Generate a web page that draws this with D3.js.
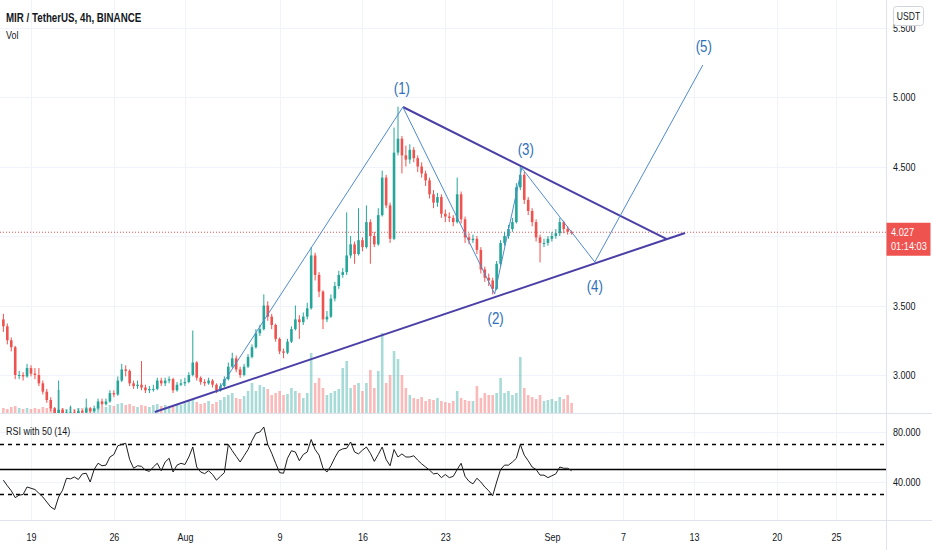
<!DOCTYPE html>
<html>
<head>
<meta charset="utf-8">
<script src="https://cdn.jsdelivr.net/npm/d3@7"></script>
<style>
  body { margin: 0; background: #fff; }
  svg text { font-family: "Liberation Sans", Arial, sans-serif; fill: #131722; }
</style>
</head>
<body>
<svg id="chart" width="932" height="550"></svg>
<script>
// ---- data (8h steps) ----
var startTime = "2021-07-16T16:00"
var firstOpen = 3.40

var closes = [
  3.35,3.25,3.20,3.00,3.00,2.99,3.05,3.01,3.00,2.94,
  2.88,2.82,2.76,2.72,2.75,2.72,2.73,2.73,2.72,2.74,
  2.73,2.76,2.74,2.76,2.81,2.79,2.81,2.87,2.86,2.96,
  3.04,3.03,2.94,2.92,2.93,2.91,2.89,2.90,2.90,2.96,
  2.94,2.96,2.97,2.89,2.93,2.94,2.95,3.00,3.09,2.98,
  2.95,2.94,2.96,2.93,2.89,2.92,2.97,3.06,3.12,3.04,
  3.00,3.06,3.13,3.20,3.30,3.33,3.50,3.42,3.36,3.26,
  3.17,3.16,3.24,3.33,3.40,3.38,3.42,3.48,3.86,3.72,
  3.60,3.40,3.42,3.55,3.64,3.72,3.74,3.86,3.94,3.87,
  3.97,3.92,4.10,4.00,3.94,4.15,4.42,4.22,3.98,4.60,
  4.70,4.58,4.55,4.62,4.56,4.50,4.45,4.40,4.30,4.24,
  4.28,4.16,4.14,4.13,4.10,4.30,4.12,3.99,3.97,3.98,
  3.90,3.76,3.70,3.68,3.62,3.80,3.95,4.00,4.05,4.10,
  4.35,4.44,4.26,4.18,4.10,3.99,3.95,3.95,3.98,4.00,
  4.02,4.10,4.05,4.03,4.027
]
var highs = [
  3.44,3.37,3.27,3.21,3.03,3.02,3.08,3.07,3.05,3.05,
  2.96,2.90,2.84,2.77,2.96,2.76,2.75,2.78,2.75,2.76,
  2.75,2.83,2.77,2.78,2.83,2.83,2.83,2.89,2.89,2.99,
  3.08,3.07,3.04,2.96,2.96,3.10,2.93,2.92,2.93,2.98,
  2.98,2.98,2.99,2.98,2.95,2.97,2.98,3.02,3.32,3.10,
  2.99,2.97,2.98,2.97,2.94,2.94,2.99,3.09,3.16,3.14,
  3.06,3.08,3.15,3.22,3.33,3.36,3.58,3.53,3.44,3.37,
  3.27,3.19,3.26,3.35,3.50,3.43,3.45,3.52,3.92,3.88,
  3.74,3.61,3.46,3.58,3.67,3.75,3.77,4.17,4.00,3.96,
  4.20,3.99,4.22,4.12,4.03,4.20,4.47,4.44,4.24,4.78,
  4.93,4.72,4.65,4.66,4.64,4.58,4.53,4.47,4.42,4.33,
  4.31,4.30,4.19,4.17,4.15,4.42,4.32,4.14,4.02,4.01,
  4.00,3.92,3.78,3.73,3.70,3.82,3.97,4.03,4.08,4.13,
  4.38,4.50,4.46,4.28,4.20,4.12,4.01,3.98,4.00,4.03,
  4.05,4.13,4.11,4.07,4.04
]
var lows = [
  3.31,3.22,3.17,2.97,2.97,2.96,2.98,2.99,2.97,2.92,
  2.86,2.80,2.74,2.69,2.70,2.69,2.70,2.71,2.70,2.71,
  2.71,2.72,2.72,2.73,2.75,2.77,2.78,2.80,2.84,2.85,
  2.95,2.99,2.92,2.90,2.90,2.89,2.87,2.87,2.88,2.89,
  2.92,2.92,2.94,2.87,2.88,2.92,2.92,2.94,2.99,2.96,
  2.93,2.92,2.93,2.91,2.87,2.88,2.91,2.96,3.05,3.02,
  2.98,2.99,3.05,3.12,3.19,3.28,3.32,3.39,3.33,3.24,
  3.15,3.12,3.15,3.23,3.32,3.26,3.36,3.40,3.47,3.68,
  3.56,3.33,3.38,3.41,3.53,3.62,3.70,3.72,3.84,3.80,
  3.86,3.89,3.91,3.80,3.92,3.93,4.14,4.20,3.95,3.97,
  4.58,4.45,4.50,4.52,4.53,4.46,4.42,4.36,4.27,4.20,
  4.21,4.13,4.10,4.10,4.07,4.09,4.09,3.95,3.94,3.95,
  3.87,3.73,3.67,3.64,3.58,3.61,3.78,3.93,3.98,4.03,
  4.09,4.33,4.23,4.15,4.07,3.96,3.81,3.92,3.93,3.96,
  3.98,4.00,4.02,4.01,4.01
]
var volumes = [ // thousand MIR, rough
  5,4,6,7,5,4,5,4,5,4,
  6,5,6,5,23,5,4,6,4,5,
  5,6,5,5,7,6,6,8,7,9,
  10,8,9,7,6,8,7,6,8,9,
  7,8,7,8,9,8,10,12,14,11,
  9,10,12,9,11,13,16,18,20,15,
  14,17,22,30,22,28,26,24,18,20,
  22,18,19,25,22,20,15,20,60,30,
  35,25,18,20,22,24,45,52,25,28,
  30,22,30,43,25,42,80,30,38,62,
  54,38,25,18,15,14,16,12,14,13,
  15,12,11,10,12,22,15,13,12,12,
  27,15,20,18,18,20,35,20,22,18,
  20,56,25,18,16,14,18,12,13,14,
  12,16,14,18,10
]
var rsi = [
  41.5,37,33,27.5,29.5,30,36,35,34,31,
  28,24,20,18,28,33.5,43,42.5,44,42,
  46.5,47,40,50,55,53,53.5,60,62,69,
  70,71,58,51,53,52.5,49.5,48.5,52,55,
  49,56,59,48,53.5,55,54,60,68,52,
  48,46.7,49,46,41.5,44.5,47.5,70,65,60.5,
  56,61,66,73,79,80,84,70,63,55,
  47.5,47,59,65,64,57,62,64,74,66,
  61.5,51,48,53,59.5,65,66.5,67,72,64,
  62.5,65.5,68,63,56.5,62,68,58,53,66,
  60,62.5,60,60,61,57.5,54.5,52,49.5,46.5,
  47,43.5,46,43.5,44.5,50,55,44.5,40.5,38.5,
  43,40,36,33,29,40,50,53.5,53.5,56,
  59,70,61.5,57,52,50,45.5,45.5,43.5,45,
  46.5,52,51,51,49
]

var priceTicks = [3.0, 3.5, 4.0, 4.5, 5.0, 5.5]
var rsiTicks = [40, 80]
var rsiBands = [70, 50, 30]
var dateTicks = ["2021-07-19","2021-07-26","2021-08-01","2021-08-09","2021-08-16","2021-08-23",
                 "2021-09-01","2021-09-07","2021-09-13","2021-09-20","2021-09-25"]
var dateLabels = ["19","26","Aug","9","16","23","Sep","7","13","20","25"]

// drawings on the chart
var waveTimes  = ["2021-08-03T19:00","2021-08-19T10:00","2021-08-27T04:00","2021-08-29T11:00","2021-09-04T15:00","2021-09-13T18:00"]
var wavePrices = [2.885, 4.928, 3.583, 4.489, 3.813, 5.23]
var waveNames  = ["(1)","(2)","(3)","(4)","(5)"]
var waveLabelTimes  = ["2021-08-19T08:00","2021-08-27T06:00","2021-08-29T19:00","2021-09-04T15:00","2021-09-13T20:00"]
var waveLabelPrices = [5.065, 3.41, 4.626, 3.64, 5.367]
var upperTimes  = ["2021-08-19T10:00","2021-09-10T17:00"]
var upperPrices = [4.928, 3.978]
var lowerTimes  = ["2021-07-29T11:00","2021-09-12T06:00"]
var lowerPrices = [2.734, 4.022]

var lastPrice = 4.027
var countdown = "01:14:03"

// ---- chart ----
var svg = d3.select('#chart')
var axisX = 886, mainBottom = 413, rsiTop = 414, rsiBottom = 520
var up = '#26a69a', down = '#ef5350', grid = '#f0f3fa', border = '#e0e3eb'

var parseT = d3.utcParse('%Y-%m-%dT%H:%M')
var parseD = d3.utcParse('%Y-%m-%d')
var t0 = parseT(startTime)

var candles = closes.map(function(c, i) {
  return { t: d3.utcHour.offset(t0, 8 * i), o: i ? closes[i - 1] : firstOpen,
           h: highs[i], l: lows[i], c: c, v: volumes[i], r: rsi[i] }
})

var xScale = d3.scaleUtc()
  .domain([parseD('2021-07-19'), parseD('2021-09-25')])
  .range([31, 836])
var yScale = d3.scaleLinear().domain([3, 5]).range([375, 97])
var rScale = d3.scaleLinear().domain([40, 80]).range([482, 432])
var vScale = d3.scaleLinear().domain([0, d3.max(volumes)]).range([0, 80])

var defs = svg.append('defs')
defs.append('clipPath').attr('id', 'clipMain')
  .append('rect').attr('x', 0).attr('y', 0).attr('width', axisX).attr('height', mainBottom)
defs.append('clipPath').attr('id', 'clipRsi')
  .append('rect').attr('x', 0).attr('y', rsiTop).attr('width', axisX).attr('height', rsiBottom - rsiTop)

// grid
var g = svg.append('g')
g.selectAll('.vgrid').data(dateTicks).enter().append('line')
  .attr('x1', d => Math.round(xScale(parseD(d))) + 0.5).attr('x2', d => Math.round(xScale(parseD(d))) + 0.5)
  .attr('y1', 0).attr('y2', rsiBottom).attr('stroke', grid)
g.selectAll('.hgrid').data(priceTicks).enter().append('line')
  .attr('x1', 0).attr('x2', axisX)
  .attr('y1', d => Math.round(yScale(d)) + 0.5).attr('y2', d => Math.round(yScale(d)) + 0.5)
  .attr('stroke', grid)
g.selectAll('.rgrid').data(rsiTicks).enter().append('line')
  .attr('x1', 0).attr('x2', axisX)
  .attr('y1', d => Math.round(rScale(d)) + 0.5).attr('y2', d => Math.round(rScale(d)) + 0.5)
  .attr('stroke', grid)

// volume
var main = svg.append('g').attr('clip-path', 'url(#clipMain)')
var bw = 2.6
main.append('g').selectAll('rect').data(candles).enter().append('rect')
  .attr('x', d => xScale(d.t) - bw / 2)
  .attr('y', d => mainBottom - vScale(d.v))
  .attr('width', bw)
  .attr('height', d => vScale(d.v))
  .attr('fill', d => d.c >= d.o ? up : down)
  .attr('opacity', 0.4)

// last price line
main.append('line')
  .attr('x1', 0).attr('x2', axisX)
  .attr('y1', yScale(lastPrice)).attr('y2', yScale(lastPrice))
  .attr('stroke', down).attr('stroke-dasharray', '1,2')

// candles
var cg = main.append('g')
cg.selectAll('line').data(candles).enter().append('line')
  .attr('x1', d => xScale(d.t)).attr('x2', d => xScale(d.t))
  .attr('y1', d => yScale(Math.max(d.h, d.o, d.c))).attr('y2', d => yScale(Math.min(d.l, d.o, d.c)))
  .attr('stroke', d => d.c >= d.o ? up : down).attr('stroke-width', 1)
cg.selectAll('rect').data(candles).enter().append('rect')
  .attr('x', d => xScale(d.t) - bw / 2)
  .attr('y', d => yScale(Math.max(d.o, d.c)))
  .attr('width', bw)
  .attr('height', d => Math.max(1, Math.abs(yScale(d.o) - yScale(d.c))))
  .attr('fill', d => d.c >= d.o ? up : down)

// triangle + waves
var line = d3.line()
var pts = function(ts, ps) { return ts.map((t, i) => [xScale(parseT(t)), yScale(ps[i])]) }
main.append('path').attr('d', line(pts(upperTimes, upperPrices)))
  .attr('fill', 'none').attr('stroke', '#4a3fa6').attr('stroke-width', 2)
main.append('path').attr('d', line(pts(lowerTimes, lowerPrices)))
  .attr('fill', 'none').attr('stroke', '#4a3fa6').attr('stroke-width', 2)
main.append('path').attr('d', line(pts(waveTimes, wavePrices)))
  .attr('fill', 'none').attr('stroke', '#4f8bd0').attr('stroke-width', 1)
main.selectAll('.wave').data(waveNames).enter().append('text')
  .attr('x', (d, i) => xScale(parseT(waveLabelTimes[i])))
  .attr('y', (d, i) => yScale(waveLabelPrices[i]))
  .attr('dy', '0.35em')
  .attr('text-anchor', 'middle')
  .style('font-size', '17px').style('fill', '#2e6fba')
  .text(d => d)

// RSI pane
var rp = svg.append('g').attr('clip-path', 'url(#clipRsi)')
rp.selectAll('.band').data(rsiBands).enter().append('line')
  .attr('x1', 0).attr('x2', axisX)
  .attr('y1', d => rScale(d)).attr('y2', d => rScale(d))
  .attr('stroke', '#000').attr('stroke-width', 1.3)
  .attr('stroke-dasharray', d => d === 50 ? null : '4,4')
rp.append('path')
  .attr('d', d3.line().x(d => xScale(d.t)).y(d => rScale(d.r))(candles))
  .attr('fill', 'none').attr('stroke', '#1e1e1e').attr('stroke-width', 1)

// pane borders
svg.append('line').attr('x1', 0).attr('x2', 932).attr('y1', 413.5).attr('y2', 413.5).attr('stroke', border)
svg.append('line').attr('x1', 0).attr('x2', 932).attr('y1', 520.5).attr('y2', 520.5).attr('stroke', border)
svg.append('line').attr('x1', axisX + 0.5).attr('x2', axisX + 0.5).attr('y1', 0).attr('y2', 550).attr('stroke', border)

// axes (the price tag hides the tick label it sits on)
var ly = yScale(lastPrice)
var labelTicks = priceTicks.filter(p => Math.abs(yScale(p) - ly) > 22)
var pAxis = svg.append('g').attr('transform', 'translate(' + axisX + ',0)')
  .call(d3.axisRight(yScale).tickValues(labelTicks).tickFormat(d3.format('.3f')).tickSize(0).tickPadding(7))
var rAxis = svg.append('g').attr('transform', 'translate(' + axisX + ',0)')
  .call(d3.axisRight(rScale).tickValues(rsiTicks).tickFormat(d3.format('.3f')).tickSize(0).tickPadding(7))
var tAxis = svg.append('g').attr('transform', 'translate(0,' + rsiBottom + ')')
  .call(d3.axisBottom(xScale).tickValues(dateTicks.map(parseD))
    .tickFormat((d, i) => dateLabels[i]).tickSize(0).tickPadding(13))
;[pAxis, rAxis, tAxis].forEach(function(a) {
  a.select('.domain').remove()
  a.selectAll('text').attr('font-family', null).attr('font-size', null)
    .style('font-size', '11.5px').attr('fill', null)
})

// last price tag
svg.append('rect').attr('x', axisX + 0.5).attr('y', ly - 9.5).attr('width', 44).attr('height', 33)
  .attr('fill', down)
svg.append('text').attr('class', 'tag').attr('x', axisX + 5).attr('y', ly + 4).text(d3.format('.3f')(lastPrice))
  .style('font-size', '10px').style('fill', '#fff')
svg.append('text').attr('class', 'tag').attr('x', axisX + 5).attr('y', ly + 18).text(countdown)
  .style('font-size', '10px').style('fill', '#fff')

// currency badge
svg.append('rect').attr('x', 893.5).attr('y', 6.5).attr('width', 30).attr('height', 19).attr('rx', 3)
  .attr('fill', '#fff').attr('stroke', '#d1d4dc')
svg.append('text').attr('x', 908.5).attr('y', 20).attr('text-anchor', 'middle').text('USDT')
  .style('font-size', '11px')

// legends
svg.append('text').attr('x', 6).attr('y', 22).text('MIR / TetherUS, 4h, BINANCE')
  .style('font-size', '12.5px').style('font-weight', 'bold')
svg.append('text').attr('x', 6).attr('y', 39).text('Vol').style('font-size', '11.5px')
svg.append('text').attr('x', 6).attr('y', 435).text('RSI with 50 (14)').style('font-size', '11.5px')

// the reference uses a narrow face: squeeze the labels
svg.selectAll('text').each(function() {
  var w = this.getComputedTextLength()
  var k = this.classList.contains('tag') ? 0.92 : 0.78
  if (w > 0) d3.select(this).attr('textLength', w * k).attr('lengthAdjust', 'spacingAndGlyphs')
})
</script>
</body>
</html>
